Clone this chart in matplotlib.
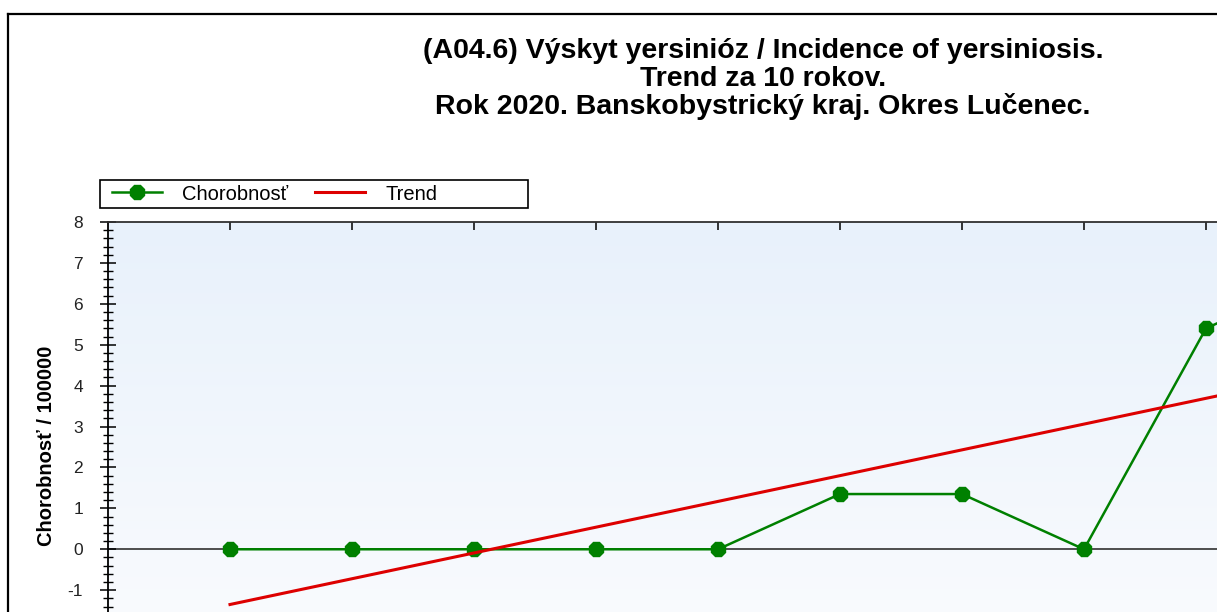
import matplotlib
matplotlib.use('Agg')
import matplotlib.pyplot as plt
import numpy as np
from matplotlib.lines import Line2D
from matplotlib.ticker import MultipleLocator

plt.rcParams['font.family'] = ['Liberation Sans', 'DejaVu Sans']
plt.rcParams['axes.unicode_minus'] = False

# Data (incidence per 100000)
years = [2011, 2012, 2013, 2014, 2015, 2016, 2017, 2018, 2019, 2020]
incidence = [0, 0, 0, 0, 0, 1.35, 1.35, 0, 5.4, 6.75]
trend_years = [2011, 2020]
trend_vals = [-1.35, 4.32]
ytick_vals = [-1, 0, 1, 2, 3, 4, 5, 6, 7, 8]

title_lines = ['(A04.6) Výskyt yersinióz / Incidence of yersiniosis.',
               'Trend za 10 rokov.',
               'Rok 2020. Banskobystrický kraj. Okres Lučenec.']

W, H = 1217, 612
fig = plt.figure(figsize=(W / 100, H / 100), dpi=100)

# plot area (part of it runs past the right and bottom edge)
left, top, right, bottom = 108, 222, 1450, 672
ax = fig.add_axes([left / W, 1 - bottom / H, (right - left) / W, (bottom - top) / H])
ax.set_xlim(2010, 2021)
ax.set_ylim(-3, 8)

# light blue gradient background
grad = np.linspace(0, 1, 256).reshape(-1, 1)
cmap = matplotlib.colors.LinearSegmentedColormap.from_list('bg', ['#fbfcfe', '#e8f1fb'])
ax.imshow(grad, extent=[0, 1, 0, 1], transform=ax.transAxes, aspect='auto',
          cmap=cmap, origin='lower', zorder=0)

ax.axhline(0, color='#404040', lw=1.3, zorder=1)

ax.plot(years, incidence, color='#008000', lw=1.8, marker='8', markersize=11,
        zorder=3, label='Chorobnosť', clip_on=False)
ax.plot(trend_years, trend_vals, color='#dd0000', lw=2.2, zorder=4, label='Trend')

# axes look
for side in ['right', 'bottom']:
    ax.spines[side].set_visible(False)
ax.spines['left'].set_linewidth(1.3)
ax.spines['top'].set_linewidth(1.3)
ax.spines['top'].set_color('#303030')

ax.xaxis.set_ticks_position('top')
ax.set_xticks(years)
ax.tick_params(axis='x', direction='in', length=6, width=1.1, labeltop=False,
               labelbottom=False)

ax.yaxis.set_minor_locator(MultipleLocator(0.2))
ax.set_yticks(ytick_vals)
ax.tick_params(axis='y', which='major', direction='inout', length=12, width=1.1,
               labelsize=12.5, pad=12, colors='black', labelcolor='#222222')
ax.tick_params(axis='y', which='minor', direction='inout', length=7, width=1.0)

# title, one text per line so the lines are evenly spaced
for i, line in enumerate(title_lines):
    fig.text(763 / W, 1 - (58 + 28 * i) / H, line, ha='center', va='baseline',
             fontsize=20.5, fontweight='bold')

fig.text(47 / W, 1 - 446 / H, 'Chorobnosť / 100000', rotation=90, ha='center',
         va='center', fontsize=14.5, fontweight='bold')

# legend with its own box
box = matplotlib.patches.Rectangle((100 / W, 1 - 208 / H), 428 / W, 28 / H,
                                   transform=fig.transFigure, fill=False,
                                   edgecolor='black', lw=1.2)
fig.add_artist(box)
handles, labels = ax.get_legend_handles_labels()
fig.legend(handles, labels, loc='center left', bbox_to_anchor=(112 / W, 1 - 194 / H),
           ncol=2, frameon=False, fontsize=14.5, handlelength=2.5,
           handletextpad=1.0, columnspacing=1.3, borderaxespad=0, borderpad=0,
           markerscale=1.0)

# outer frame of the chart
fig.add_artist(Line2D([8 / W, 8 / W], [0, 1 - 14 / H], color='black', lw=1.6))
fig.add_artist(Line2D([8 / W, 1], [1 - 14 / H, 1 - 14 / H], color='black', lw=1.6))

fig.savefig('out.png', dpi=100)
